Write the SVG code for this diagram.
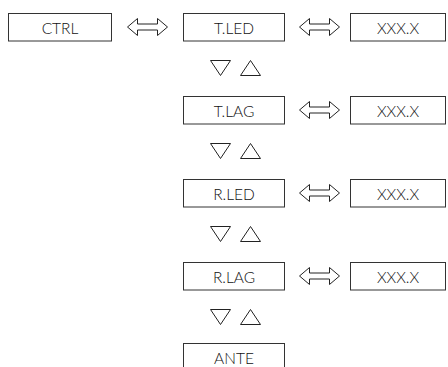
<svg xmlns="http://www.w3.org/2000/svg" width="448" height="367" viewBox="0 0 448 367">
<defs>
<style>
.box{fill:#fff;stroke:#333;stroke-width:1}
.t{font-family:"Lato","Liberation Sans",Arial,sans-serif;font-weight:300;font-size:15.5px;fill:#111;text-anchor:middle}
.ar{fill:none;stroke:#222;stroke-width:1;stroke-linejoin:miter}
</style>
<path id="dbl" d="M0,8.5 L10,0 L10,5.5 L30,5.5 L30,0 L40,8.5 L30,17 L30,11.5 L10,11.5 L10,17 Z"/>
<path id="tri" d="M0,0 L20,0 L10,15 Z M30,15 L50,15 L40,0 Z"/>
</defs>
<g id="ctrl"><rect class="box" x="8.5" y="13.5" width="103" height="27.5"/><text class="t" x="60" y="33.5">CTRL</text></g>
<g id="tled"><rect class="box" x="183.5" y="13.5" width="101" height="27.5"/><text class="t" x="234" y="33.5">T.LED</text></g>
<g id="v1"><rect class="box" x="350.5" y="13.5" width="95" height="27.5"/><text class="t" x="398" y="33.5">XXX.X</text></g>
<g id="tlag"><rect class="box" x="183.5" y="96.5" width="101" height="27.5"/><text class="t" x="234" y="116.5">T.LAG</text></g>
<g id="v2"><rect class="box" x="350.5" y="96.5" width="95" height="27.5"/><text class="t" x="398" y="116.5">XXX.X</text></g>
<g id="rled"><rect class="box" x="183.5" y="179.5" width="101" height="27.5"/><text class="t" x="234" y="199.5">R.LED</text></g>
<g id="v3"><rect class="box" x="350.5" y="179.5" width="95" height="27.5"/><text class="t" x="398" y="199.5">XXX.X</text></g>
<g id="rlag"><rect class="box" x="183.5" y="262.5" width="101" height="27.5"/><text class="t" x="234" y="282.5">R.LAG</text></g>
<g id="v4"><rect class="box" x="350.5" y="262.5" width="95" height="27.5"/><text class="t" x="398" y="282.5">XXX.X</text></g>
<g id="ante"><rect class="box" x="183.5" y="343.5" width="101" height="27.5"/><text class="t" x="234" y="363.5">ANTE</text></g>
<g id="connectors">
<use href="#dbl" class="ar" x="127.5" y="18.5"/>
<use href="#dbl" class="ar" x="299.5" y="18.5"/>
<use href="#dbl" class="ar" x="299.5" y="101.5"/>
<use href="#dbl" class="ar" x="299.5" y="184.5"/>
<use href="#dbl" class="ar" x="299.5" y="267.5"/>
<use href="#tri" class="ar" x="210.5" y="60.5"/>
<use href="#tri" class="ar" x="210.5" y="143.5"/>
<use href="#tri" class="ar" x="210.5" y="226.5"/>
<use href="#tri" class="ar" x="210.5" y="309.5"/>
</g>
</svg>
